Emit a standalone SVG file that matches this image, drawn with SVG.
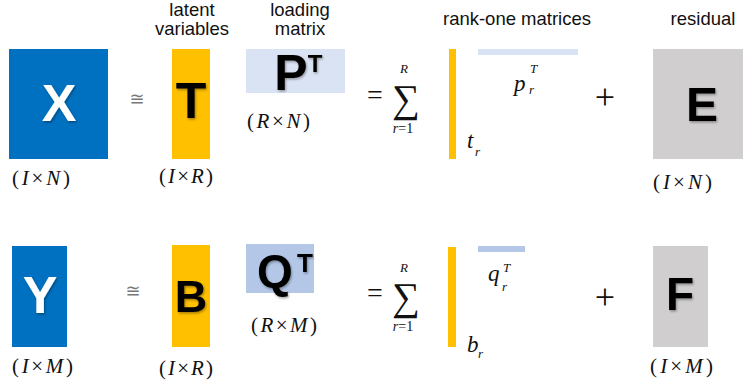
<svg xmlns="http://www.w3.org/2000/svg" width="743" height="388" viewBox="0 0 743 388">
<defs>
<filter id="sh" x="-20%" y="-20%" width="140%" height="140%">
<feDropShadow dx="1" dy="1.5" stdDeviation="1" flood-color="#000" flood-opacity="0.35"/>
</filter>
<style>
.big{font-family:"Liberation Sans",Arial,sans-serif;font-weight:bold;text-anchor:middle;filter:url(#sh)}
.lab{font-family:"Liberation Sans",Arial,sans-serif;font-size:18.5px;fill:#111;text-anchor:middle}
.m{font-family:"Liberation Serif","DejaVu Serif",serif;fill:#111}
.i{font-style:italic}
.dim{font-family:"Liberation Serif","DejaVu Serif",serif;font-size:21px;fill:#111}
.ap{font-family:"DejaVu Sans",sans-serif;font-size:18px;fill:#777;text-anchor:middle}
.blue{fill:#0070C0}
.yel{fill:#FFC000}
.lb{fill:#DAE3F3}
.mb{fill:#B4C7E7}
.gr{fill:#D0CECE}
</style>
</defs>
<rect width="743" height="388" fill="#fff"/>

<g id="headers">
<text class="lab" x="192" y="15.5">latent</text>
<text class="lab" x="192" y="35">variables</text>
<text class="lab" x="300" y="15.5">loading</text>
<text class="lab" x="300" y="35">matrix</text>
<text class="lab" x="517" y="25">rank-one matrices</text>
<text class="lab" x="703" y="25">residual</text>
</g>

<g id="X">
<rect class="blue" x="9" y="49" width="99" height="110"/>
<text class="big" x="59" y="121" font-size="52" fill="#fff">X</text>
<text class="dim" x="12" y="185" textLength="58" lengthAdjust="spacing">(<tspan class="i">I</tspan>×<tspan class="i">N</tspan>)</text>
</g>
<g id="approx1"><text class="ap" x="137" y="105">≅</text></g>
<g id="T">
<rect class="yel" x="172" y="49" width="38" height="110"/>
<text class="big" x="191" y="118" font-size="50" fill="#000">T</text>
<text class="dim" x="159" y="183" textLength="54" lengthAdjust="spacing">(<tspan class="i">I</tspan>×<tspan class="i">R</tspan>)</text>
</g>
<g id="PT">
<rect class="lb" x="246" y="49" width="99" height="44"/>
<text class="big" x="291" y="90" font-size="50" fill="#000">P</text>
<text class="big" x="315" y="72" font-size="24" fill="#000">T</text>
<text class="dim" x="247" y="128" textLength="63" lengthAdjust="spacing">(<tspan class="i">R</tspan>×<tspan class="i">N</tspan>)</text>
</g>
<g id="sum1">
<text class="m" x="375" y="104" font-size="28" text-anchor="middle">=</text>
<text class="m" x="406" y="111.5" font-size="39" text-anchor="middle">∑</text>
<text class="m i" x="404" y="73" font-size="13" text-anchor="middle">R</text>
<text class="m" x="403" y="133" font-size="14" text-anchor="middle"><tspan class="i">r</tspan>=1</text>
</g>
<g id="rank1">
<rect class="yel" x="449" y="49" width="7" height="110"/>
<rect class="lb" x="478" y="49" width="100" height="6"/>
<text class="m i" x="514" y="91" font-size="23">p</text>
<text class="m i" x="530" y="73" font-size="13">T</text>
<text class="m i" x="529" y="94" font-size="13">r</text>
<text class="m i" x="467" y="148" font-size="23">t</text>
<text class="m i" x="475" y="156" font-size="13">r</text>
</g>
<g id="plus1"><text class="m" x="605" y="109" font-size="36" text-anchor="middle">+</text></g>
<g id="E">
<rect class="gr" x="653" y="49" width="90" height="110"/>
<text class="big" x="702" y="121" font-size="48" fill="#000">E</text>
<text class="dim" x="653" y="189" textLength="59" lengthAdjust="spacing">(<tspan class="i">I</tspan>×<tspan class="i">N</tspan>)</text>
</g>

<g id="Y">
<rect class="blue" x="12" y="246" width="55" height="101"/>
<text class="big" x="40" y="313" font-size="52" fill="#fff">Y</text>
<text class="dim" x="12" y="373" textLength="61" lengthAdjust="spacing">(<tspan class="i">I</tspan>×<tspan class="i">M</tspan>)</text>
</g>
<g id="approx2"><text class="ap" x="133" y="297">≅</text></g>
<g id="B">
<rect class="yel" x="172" y="245" width="38" height="102"/>
<text class="big" x="191" y="312" font-size="45" fill="#000">B</text>
<text class="dim" x="159" y="375" textLength="54" lengthAdjust="spacing">(<tspan class="i">I</tspan>×<tspan class="i">R</tspan>)</text>
</g>
<g id="QT">
<rect class="mb" x="246" y="244" width="68" height="49"/>
<text class="big" x="275" y="287" font-size="46" fill="#000">Q</text>
<text class="big" x="305" y="272" font-size="26" fill="#000">T</text>
<text class="dim" x="251" y="332" textLength="66" lengthAdjust="spacing">(<tspan class="i">R</tspan>×<tspan class="i">M</tspan>)</text>
</g>
<g id="sum2">
<text class="m" x="375" y="302" font-size="28" text-anchor="middle">=</text>
<text class="m" x="406" y="309.5" font-size="39" text-anchor="middle">∑</text>
<text class="m i" x="404" y="272" font-size="13" text-anchor="middle">R</text>
<text class="m" x="403" y="331" font-size="14" text-anchor="middle"><tspan class="i">r</tspan>=1</text>
</g>
<g id="rank2">
<rect class="yel" x="448" y="247" width="8" height="100"/>
<rect class="mb" x="478" y="246" width="47" height="6"/>
<text class="m i" x="488" y="281" font-size="23">q</text>
<text class="m i" x="503" y="272" font-size="13">T</text>
<text class="m i" x="502" y="291" font-size="13">r</text>
<text class="m i" x="467" y="352" font-size="23">b</text>
<text class="m i" x="478" y="358" font-size="13">r</text>
</g>
<g id="plus2"><text class="m" x="605" y="309" font-size="36" text-anchor="middle">+</text></g>
<g id="F">
<rect class="gr" x="653" y="246" width="55" height="101"/>
<text class="big" x="680" y="310" font-size="46" fill="#000">F</text>
<text class="dim" x="650" y="373" textLength="63" lengthAdjust="spacing">(<tspan class="i">I</tspan>×<tspan class="i">M</tspan>)</text>
</g>
<g id="connectors"/>
</svg>
